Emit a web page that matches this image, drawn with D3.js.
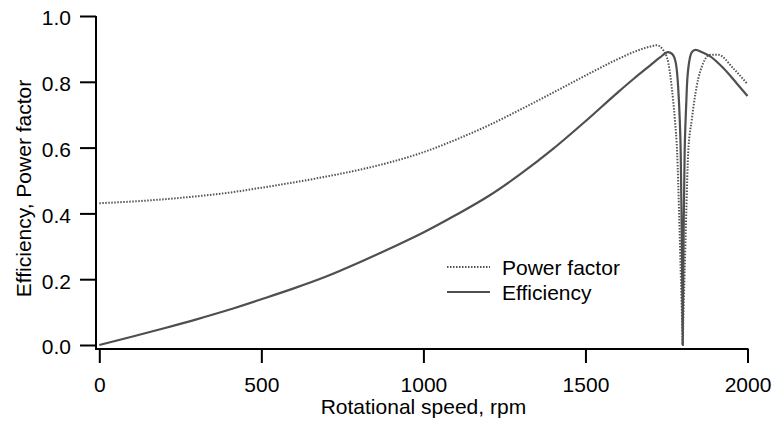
<!DOCTYPE html>
<html>
<head>
<meta charset="utf-8">
<script src="https://cdn.jsdelivr.net/npm/d3@7"></script>
<style>
  html, body { margin: 0; padding: 0; background: #fff; }
  svg { display: block; }
  text { font-family: "Liberation Sans", Arial, Helvetica, sans-serif; fill: #000; }
</style>
</head>
<body>
<svg id="chart" width="775" height="428"></svg>
<script>
// ---- data ----
const xTicks = [0, 500, 1000, 1500, 2000];
const yTicks = [0.0, 0.2, 0.4, 0.6, 0.8, 1.0];
const seriesNames = ["Power factor", "Efficiency"];

const pfSpeed = [0, 100, 200, 300, 400, 500, 600, 700, 800, 900, 1000, 1100, 1200, 1300, 1400, 1500, 1600, 1650, 1700, 1720, 1738, 1756, 1766, 1776, 1783, 1789, 1794, 1798, 1800, 1802, 1806, 1811, 1817, 1828, 1843, 1863, 1884, 1910, 1956, 2000];
const pfValue = [0.431, 0.436, 0.443, 0.452, 0.463, 0.478, 0.494, 0.512, 0.532, 0.556, 0.586, 0.624, 0.667, 0.716, 0.767, 0.819, 0.869, 0.891, 0.907, 0.911, 0.899, 0.856, 0.785, 0.684, 0.583, 0.40, 0.22, 0.08, 0.0, 0.08, 0.22, 0.40, 0.583, 0.684, 0.785, 0.856, 0.882, 0.882, 0.841, 0.793];

const effSpeed = [0, 100, 200, 300, 400, 500, 600, 700, 800, 900, 1000, 1100, 1200, 1300, 1400, 1500, 1600, 1650, 1700, 1730, 1755, 1768, 1779, 1786, 1791, 1794, 1797, 1799, 1800, 1801, 1803, 1806, 1809, 1813, 1821, 1830, 1840, 1860, 1884, 1926, 1967, 2000];
const effValue = [0.0, 0.025, 0.051, 0.078, 0.107, 0.139, 0.172, 0.208, 0.250, 0.295, 0.342, 0.395, 0.452, 0.520, 0.596, 0.680, 0.768, 0.810, 0.850, 0.874, 0.890, 0.884, 0.856, 0.785, 0.684, 0.583, 0.35, 0.15, 0.0, 0.15, 0.35, 0.583, 0.684, 0.785, 0.866, 0.892, 0.897, 0.890, 0.878, 0.841, 0.795, 0.757];

// ---- layout ----
const svg = d3.select("#chart");
const FONT = 21;
const x = d3.scaleLinear().domain([0, 2000]).range([99.3, 747.5]);
const y = d3.scaleLinear().domain([0, 1]).range([345, 16]);
const yAxisX = 96;
const xAxisY = 349;

// y axis
const gy = svg.append("g").attr("transform", `translate(${yAxisX},0)`)
  .call(d3.axisLeft(y).tickValues(yTicks).tickFormat(d3.format(".1f")).tickSize(16).tickSizeOuter(0).tickPadding(9));
gy.select(".domain").remove();
gy.append("line").attr("x1", 0).attr("x2", 0).attr("y1", y(1)).attr("y2", xAxisY + 1)
  .attr("stroke", "#000").attr("stroke-width", 2);
gy.selectAll(".tick line").attr("stroke", "#000").attr("stroke-width", 2);
gy.selectAll(".tick text").attr("font-size", FONT).attr("font-family", "Liberation Sans, Arial, sans-serif").attr("dy", "0.42em").attr("fill", "#000");

// x axis
const gx = svg.append("g").attr("transform", `translate(0,${xAxisY})`)
  .call(d3.axisBottom(x).tickValues(xTicks).tickFormat(d3.format("d")).tickSize(14).tickSizeOuter(0).tickPadding(14));
gx.select(".domain").remove();
gx.append("line").attr("x1", yAxisX - 1).attr("x2", x(2000) + 1).attr("y1", 0).attr("y2", 0)
  .attr("stroke", "#000").attr("stroke-width", 2);
gx.selectAll(".tick line").attr("stroke", "#000").attr("stroke-width", 2);
gx.selectAll(".tick text").attr("font-size", FONT).attr("font-family", "Liberation Sans, Arial, sans-serif").attr("fill", "#000");

// axis titles
svg.append("text").attr("x", (x(0) + x(2000)) / 2).attr("y", 414)
  .attr("text-anchor", "middle").attr("font-size", FONT).text("Rotational speed, rpm");
svg.append("text").attr("transform", `translate(31,${(y(0) + y(1)) / 2 + 8}) rotate(-90)`)
  .attr("text-anchor", "middle").attr("font-size", FONT).text("Efficiency, Power factor");

// lines
const line = d3.line().x(d => x(d[0])).y(d => y(d[1])).curve(d3.curveMonotoneX);
const pfData = pfSpeed.map((s, i) => [s, pfValue[i]]);
const effData = effSpeed.map((s, i) => [s, effValue[i]]);

svg.append("path").datum(pfData).attr("d", line).attr("fill", "none")
  .attr("stroke", "#555").attr("stroke-width", 2).attr("stroke-dasharray", "1.5,1.5");
svg.append("path").datum(effData).attr("d", line).attr("fill", "none")
  .attr("stroke", "#4f4f4f").attr("stroke-width", 2.2);

// legend
const legend = svg.append("g");
const legItems = [
  { name: seriesNames[0], dash: "1.5,1.5", w: 2, color: "#555", ly: 267 },
  { name: seriesNames[1], dash: null, w: 2.2, color: "#4f4f4f", ly: 292 }
];
legItems.forEach(it => {
  legend.append("line").attr("x1", 447).attr("x2", 490).attr("y1", it.ly).attr("y2", it.ly)
    .attr("stroke", it.color).attr("stroke-width", it.w).attr("stroke-dasharray", it.dash);
  legend.append("text").attr("x", 502).attr("y", it.ly + 7.5).attr("font-size", FONT).text(it.name);
});
</script>
</body>
</html>
